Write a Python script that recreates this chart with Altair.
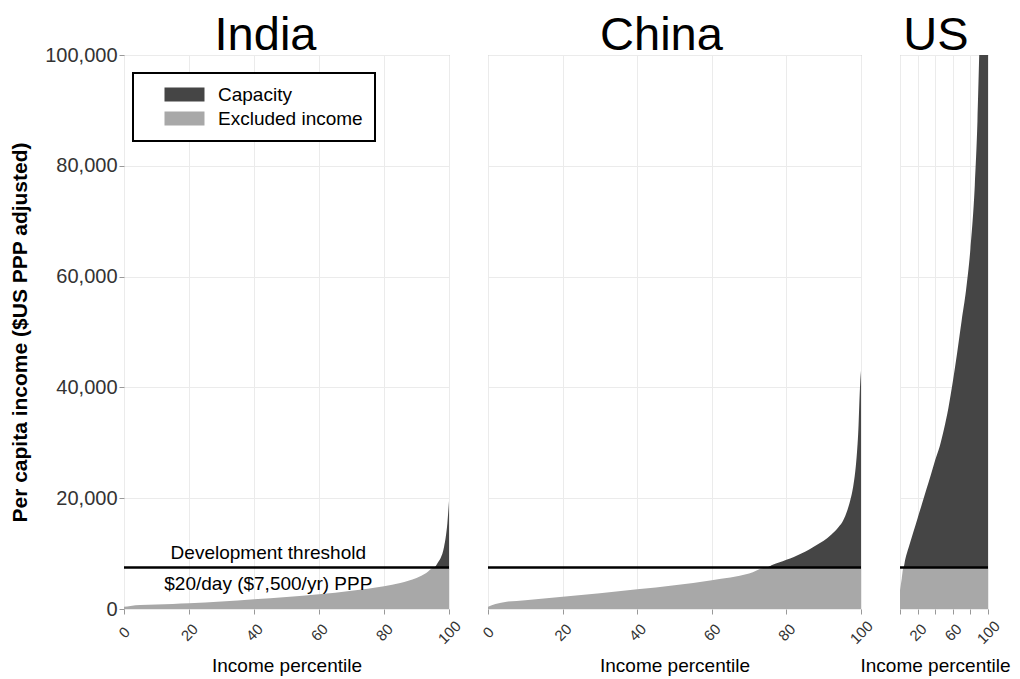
import altair as alt
import pandas as pd

# ---- data ----
countries = ["India", "China", "US"]

india_pct = [0, 2, 5, 10, 15, 20, 30, 40, 50, 60, 70, 80, 85, 90, 93, 95.4, 96.5, 97.5, 98, 98.5, 99, 99.5, 100]
india_inc = [400, 550, 700, 800, 920, 1050, 1350, 1750, 2150, 2650, 3300, 4100, 4700, 5600, 6500, 7500, 8300, 9300, 10050, 11300, 13000, 15500, 19500]

china_pct = [0, 2, 5, 10, 20, 30, 40, 50, 60, 70, 74.7, 76, 78, 80, 82, 84, 86, 88, 90, 92, 94, 95, 96, 97, 98, 98.6, 99, 99.3, 99.6, 99.8, 100]
china_inc = [420, 900, 1300, 1600, 2200, 2850, 3550, 4300, 5200, 6400, 7500, 7900, 8400, 8900, 9400, 10000, 10700, 11500, 12300, 13400, 14800, 15700, 17200, 19300, 22500, 25700, 29000, 32500, 38000, 41000, 43000]

us_pct = [0, 2, 4, 6, 10, 15, 20, 25, 30, 35, 40, 45, 50, 55, 60, 65, 70, 75, 80, 85, 88, 90, 95, 100]
us_inc = [3400, 5500, 7500, 9000, 11200, 13800, 16400, 19000, 21600, 24200, 26900, 29300, 32500, 36300, 41000, 46300, 52000, 57500, 65000, 76500, 88000, 100000, 140000, 250000]

threshold = 7500
series_names = ["Capacity", "Excluded income"]
series_colors = ["#454545", "#a8a8a8"]
y_ticks = [0, 20000, 40000, 60000, 80000, 100000]
x_ticks = [0, 20, 40, 60, 80, 100]
annot_lines = ["Development threshold", "$20/day ($7,500/yr) PPP"]
annot_x = 44.4

series_data = {"India": (india_pct, india_inc), "China": (china_pct, china_inc), "US": (us_pct, us_inc)}

rows = []
for c in countries:
    pcts, incs = series_data[c]
    for p, v in zip(pcts, incs):
        rows.append({"country": c, "pct": p, "series": "Excluded income", "y": min(v, threshold), "y2": 0})
        rows.append({"country": c, "pct": p, "series": "Capacity", "y": max(v, threshold), "y2": threshold})
df = pd.DataFrame(rows)
thr_df = pd.DataFrame({"thr": [threshold]})

FONT = "Liberation Sans"
GRID = "#ebebeb"
PLOT_H = 554

legend = alt.Legend(title=None, orient="none", legendX=9, legendY=18,
                    symbolType="M-2.105,-0.737L2.105,-0.737L2.105,0.737L-2.105,0.737Z",
                    symbolSize=361, symbolStrokeWidth=0, symbolOffset=30,
                    labelOffset=24, labelFontSize=19, labelColor="black",
                    rowPadding=4, padding=12, strokeColor="black", fillColor="white")

def panel(country, width, first, last, title_offset, title_dx):
    d = df[df.country == country]
    if first:
        yaxis = alt.Axis(values=y_ticks, format=",d", title="Per capita income ($US PPP adjusted)",
                         labelFontSize=20, labelColor="#333333", tickSize=5, tickColor="#999999",
                         labelPadding=2, titleFontSize=21, titleFontWeight="bold", titleColor="black",
                         titlePadding=14, domain=False, grid=True, gridColor=GRID)
    else:
        yaxis = alt.Axis(values=y_ticks, labels=False, ticks=False, domain=False, title=None,
                         grid=True, gridColor=GRID)
    xkw = dict(values=x_ticks, title="Income percentile", labelAngle=-45, labelAlign="center",
               labelBaseline="middle", labelPadding=18, labelFontSize=15, labelColor="#333333",
               tickSize=5, tickColor="#999999", domain=False, grid=True, gridColor=GRID,
               titleFontSize=19, titleFontWeight="normal", titleColor="black", titlePadding=10,
               labelOverlap=False)
    if last:
        xkw["labelExpr"] = "(datum.value == 20 || datum.value == 60 || datum.value == 100) ? datum.label : ''"
        xkw["titleX"] = width / 2 - 9
    xaxis = alt.Axis(**xkw)

    area = alt.Chart(d).mark_area(clip=True, interpolate="monotone").encode(
        x=alt.X("pct:Q", scale=alt.Scale(domain=[0, 100], nice=False, zero=False), axis=xaxis),
        y=alt.Y("y:Q", scale=alt.Scale(domain=[0, 100000], nice=False), axis=yaxis, stack=None),
        y2="y2:Q",
        color=alt.Color("series:N", scale=alt.Scale(domain=series_names, range=series_colors), legend=legend),
    )
    rule = alt.Chart(thr_df).mark_rule(color="black", strokeWidth=2.5).encode(y=alt.Y("thr:Q"))
    layers = [area, rule]
    if first:
        tdf = pd.DataFrame({"x": [annot_x, annot_x], "y": [threshold, threshold], "t": annot_lines,
                            "k": ["above", "below"]})
        t1 = alt.Chart(tdf[tdf.k == "above"]).mark_text(fontSize=19, color="black", dy=-14, font=FONT).encode(
            x="x:Q", y="y:Q", text="t:N")
        t2 = alt.Chart(tdf[tdf.k == "below"]).mark_text(fontSize=19, color="black", dy=17, font=FONT).encode(
            x="x:Q", y="y:Q", text="t:N")
        layers += [t1, t2]
    return alt.layer(*layers).properties(
        width=width, height=PLOT_H,
        title=alt.TitleParams(country, fontSize=47, font=FONT, fontWeight="normal", color="black",
                              anchor="middle", offset=title_offset, dx=title_dx),
    )

chart = (alt.hconcat(
    panel("India", 325, True, False, -15, -21),
    panel("China", 373, False, False, -5, -13),
    panel("US", 88, False, True, -5, -8),
    spacing=39, bounds="flush",
).properties(
    autosize=alt.AutoSizeParams(type="none"),
    padding={"left": 116, "top": 47, "right": 888, "bottom": 616},
)
 .configure(font=FONT)
 .configure_view(stroke="#b0b0b0", strokeWidth=1)
 .configure_legend(strokeWidth=2))

chart.save("out.html", embed_options={"renderer": "svg", "actions": False})
